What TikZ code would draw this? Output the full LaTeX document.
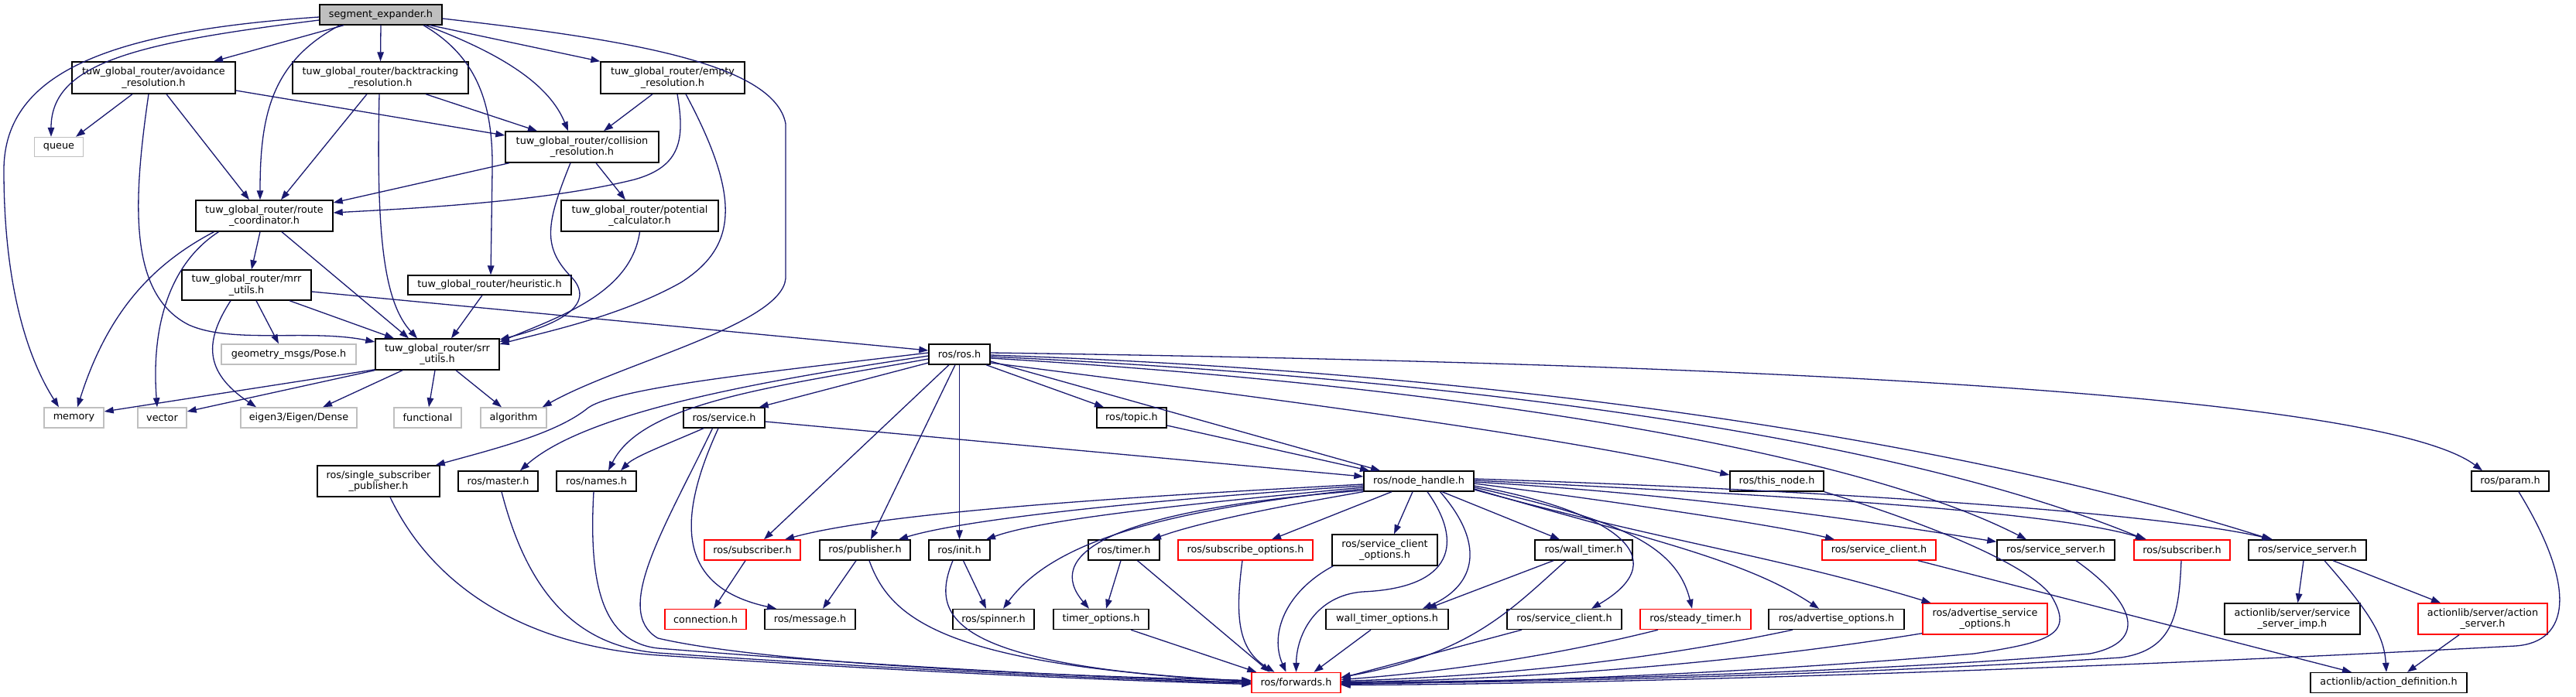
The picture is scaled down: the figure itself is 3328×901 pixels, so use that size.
\documentclass[tikz,border=0pt]{standalone}
\usepackage{fontspec}
\setmainfont{DejaVu Sans}
\usetikzlibrary{arrows.meta}
\definecolor{edgec}{RGB}{25,25,112}
\definecolor{grey75}{RGB}{191,191,191}
\newcommand\fnt{\fontsize{12.8}{14.5}\selectfont}
\newcommand\mynode[7]{\node[#1,minimum width=#5pt,minimum height=#6pt] (#2) at (#3,#4) {#7};}
\tikzset{
  nbase/.style={line width=1.4pt, fill=white, inner sep=0pt, align=center, font=\fnt, text=black},
  nb/.style={nbase, draw=black},
  ng/.style={nbase, draw=grey75},
  nr/.style={nbase, draw=red},
  ntop/.style={nbase, draw=black, fill=grey75},
  e/.style={draw=edgec, line width=1.3pt, -{Triangle[length=12pt,width=8.5pt]}, fill=none}
}
\begin{document}
\begin{tikzpicture}[x=1pt,y=-1pt]
\fill[white] (0,0) rectangle (3328,901);
\useasboundingbox (0,0) rectangle (3328,901);
% nodes
\mynode{ntop}{se}{492}{19}{158}{26}{segment\_expander.h}
\mynode{nb}{av}{198.5}{100.5}{211}{41}{tuw\_global\_router/avoidance\\\_resolution.h}
\mynode{nb}{bt}{491.5}{100.5}{227}{41}{tuw\_global\_router/backtracking\\\_resolution.h}
\mynode{nb}{em}{869}{100.5}{186}{41}{tuw\_global\_router/empty\\\_resolution.h}
\mynode{ng}{qu}{76}{190}{63}{25}{queue}
\mynode{nb}{co}{752}{190}{198}{40}{tuw\_global\_router/collision\\\_resolution.h}
\mynode{nb}{rc}{341.5}{279}{177}{40}{tuw\_global\_router/route\\\_coordinator.h}
\mynode{nb}{po}{826.5}{279}{203}{40}{tuw\_global\_router/potential\\\_calculator.h}
\mynode{nb}{mu}{318.5}{368.5}{167}{39}{tuw\_global\_router/mrr\\\_utils.h}
\mynode{nb}{he}{632.5}{368.5}{211}{25}{tuw\_global\_router/heuristic.h}
\mynode{nb}{su}{565}{458}{160}{40}{tuw\_global\_router/srr\\\_utils.h}
\mynode{ng}{gp}{373}{458}{174}{26}{geometry\_msgs/Pose.h}
\mynode{ng}{me}{95.5}{540}{77}{26}{memory}
\mynode{ng}{ve}{209.5}{540}{63}{26}{vector}
\mynode{ng}{ei}{386}{540}{150}{26}{eigen3/Eigen/Dense}
\mynode{ng}{fu}{552.5}{540}{87}{26}{functional}
\mynode{ng}{al}{663.5}{540}{85}{26}{algorithm}
\mynode{nb}{rr}{1239.5}{458}{79}{26}{ros/ros.h}
\mynode{nb}{sv}{935.5}{540}{105}{26}{ros/service.h}
\mynode{nb}{tp}{1462}{540}{90}{26}{ros/topic.h}
\mynode{nb}{ssp}{489}{622}{158}{40}{ros/single\_subscriber\\\_publisher.h}
\mynode{nb}{ma}{643.5}{622}{103}{26}{ros/master.h}
\mynode{nb}{na}{770.5}{622}{103}{26}{ros/names.h}
\mynode{nb}{nh}{1833}{622}{142}{26}{ros/node\_handle.h}
\mynode{nb}{tn}{2295.5}{622}{121}{26}{ros/this\_node.h}
\mynode{nb}{pa}{3243}{622}{100}{26}{ros/param.h}
\mynode{nr}{sba}{972}{711}{124}{26}{ros/subscriber.h}
\mynode{nb}{pu}{1117.5}{711}{117}{26}{ros/publisher.h}
\mynode{nb}{ini}{1239.5}{711}{79}{26}{ros/init.h}
\mynode{nb}{ti}{1452}{711}{92}{26}{ros/timer.h}
\mynode{nr}{so}{1609}{711}{174}{26}{ros/subscribe\_options.h}
\mynode{nb}{sco}{1789}{711}{136}{40}{ros/service\_client\\\_options.h}
\mynode{nb}{wt}{2046}{711}{126}{26}{ros/wall\_timer.h}
\mynode{nr}{scr}{2427.5}{711}{147}{26}{ros/service\_client.h}
\mynode{nb}{ssa}{2656}{711}{152}{26}{ros/service\_server.h}
\mynode{nr}{sbb}{2819}{711}{124}{26}{ros/subscriber.h}
\mynode{nb}{ssb}{2981}{711}{152}{26}{ros/service\_server.h}
\mynode{nr}{cn}{911.5}{800.5}{105}{26}{connection.h}
\mynode{nb}{ms}{1046.5}{800.5}{117}{26}{ros/message.h}
\mynode{nb}{sp}{1283.5}{800.5}{105}{26}{ros/spinner.h}
\mynode{nb}{tio}{1422.5}{800.5}{123}{26}{timer\_options.h}
\mynode{nb}{wto}{1792}{800.5}{158}{26}{wall\_timer\_options.h}
\mynode{nb}{scb}{2021}{800.5}{148}{26}{ros/service\_client.h}
\mynode{nr}{st}{2190.5}{800.5}{143}{26}{ros/steady\_timer.h}
\mynode{nb}{ao}{2372.5}{800.5}{175}{26}{ros/advertise\_options.h}
\mynode{nr}{aso}{2564.5}{800}{161}{40}{ros/advertise\_service\\\_options.h}
\mynode{nb}{ssi}{2961.5}{800}{175}{40}{actionlib/server/service\\\_server\_imp.h}
\mynode{nr}{asv}{3207.5}{800}{167}{40}{actionlib/server/action\\\_server.h}
\mynode{nr}{fw}{1674.5}{882.5}{115}{26}{ros/forwards.h}
\mynode{nb}{ad}{3086}{882.5}{202}{26}{actionlib/action\_definition.h}
% edges from segment_expander.h
\draw[e] ([yshift=-3pt]se.west) .. controls (150,40) and (5,90) .. (5,220) .. controls (5,380) and (40,470) .. ([xshift=-19.5pt]me.north);
\draw[e] ([yshift=-7pt]se.west) .. controls (180,55) and (66,80) .. ([xshift=-10pt]qu.north);
\draw[e] ([xshift=-48pt]se.south) -- ([xshift=77.5pt]av.north);
\draw[e] ([xshift=-53pt]se.south) .. controls (350,80) and (336,150) .. ([xshift=-5.5pt]rc.north);
\draw[e] (se.south) -- (bt.north);
\draw[e] ([xshift=55pt]se.south) .. controls (620,75) and (637,140) .. (636,220) -- ([xshift=1.5pt]he.north);
\draw[e] ([xshift=58pt]se.south) .. controls (650,70) and (710,110) .. ([xshift=-18pt]co.north);
\draw[e] ([xshift=64pt]se.south) -- (em.north west);
\draw[e] ([yshift=-5pt]se.east) .. controls (800,50) and (1000,80) .. (1015,160) -- (1015,360) .. controls (1010,420) and (800,470) .. ([xshift=-6pt]al.north east);
% avoidance
\draw[e] ([xshift=-27.5pt]av.south) -- ([xshift=22pt]qu.north);
\draw[e] ([xshift=-6.5pt]av.south) .. controls (172,260) and (165,380) .. (244,420) .. controls (300,445) and (400,425) .. ([yshift=16pt]su.west);
\draw[e] ([xshift=16.5pt]av.south) -- ([xshift=-19.5pt]rc.north);
\draw[e] ([yshift=-16.5pt]av.east) -- ([yshift=15pt]co.west);
% backtracking
\draw[e] ([xshift=-17.5pt]bt.south) -- ([xshift=21.5pt]rc.north);
\draw[e] ([xshift=-1.5pt]bt.south) .. controls (486,300) and (495,390) .. ([xshift=-26pt]su.north);
\draw[e] ([xshift=58.5pt]bt.south) -- ([xshift=-58pt]co.north);
% empty
\draw[e] ([xshift=-26pt]em.south) -- ([xshift=28pt]co.north);
\draw[e] ([xshift=6pt]em.south) .. controls (885,180) and (880,215) .. (820,232) .. controls (700,262) and (520,270) .. ([yshift=4pt]rc.east);
\draw[e] ([xshift=17pt]em.south) .. controls (960,260) and (950,320) .. (880,365) .. controls (800,410) and (700,430) .. ([yshift=13pt]su.east);
% collision
\draw[e] ([xshift=-94pt]co.south) -- ([yshift=17pt]rc.east);
\draw[e] ([xshift=18pt]co.south) -- ([xshift=-18.5pt]po.north);
\draw[e] ([xshift=-15pt]co.south) .. controls (705,290) and (700,320) .. (740,360) .. controls (770,395) and (720,420) .. ([yshift=19pt]su.east);
\draw[e] (po.south) .. controls (815,380) and (720,410) .. ([yshift=16pt]su.east);
% route coordinator
\draw[e] ([xshift=-5.5pt]rc.south) -- ([xshift=6.5pt]mu.north);
\draw[e] ([xshift=22.5pt]rc.south) -- ([xshift=-37pt]su.north);
\draw[e] ([xshift=-65pt]rc.south) .. controls (200,340) and (140,400) .. ([xshift=4.5pt]me.north);
\draw[e] ([xshift=-59pt]rc.south) .. controls (220,340) and (195,420) .. ([xshift=-6.5pt]ve.north);
% mrr utils
\draw[e] ([xshift=55.5pt]mu.south) -- ([xshift=-56pt]su.north);
\draw[e] ([xshift=12.5pt]mu.south) -- ([xshift=-13pt]gp.north);
\draw[e] ([xshift=-20.5pt]mu.south) .. controls (265,440) and (262,480) .. ([xshift=-55pt]ei.north);
\draw[e] ([yshift=-8.5pt]mu.east) -- ([yshift=5pt]rr.west);
\draw[e] ([xshift=-9.5pt]he.south) -- ([xshift=18pt]su.north);
% srr utils
\draw[e] ([yshift=1pt]su.south west) -- ([yshift=8pt]me.east);
\draw[e] (su.south west) -- ([yshift=8pt]ve.east);
\draw[e] ([xshift=-45pt]su.south) -- ([xshift=31pt]ei.north);
\draw[e] ([xshift=-3pt]su.south) -- ([xshift=1.5pt]fu.north);
\draw[e] ([xshift=24pt]su.south) -- ([xshift=-15.5pt]al.north);
% ros.h
\draw[e] ([yshift=-11pt]rr.west) -- ([xshift=-8pt]sv.north east);
\draw[e] ([xshift=-13.5pt]rr.south) -- ([xshift=15pt]sba.north);
\draw[e] ([xshift=-5.5pt]rr.south) -- ([xshift=7.5pt]pu.north);
\draw[e] (rr.south) -- (ini.north);
\draw[e] ([xshift=34.5pt]rr.south) -- ([xshift=-36pt]tp.north);
\draw[e] ([yshift=-9pt]rr.east) -- ([xshift=-50pt]nh.north);
\draw[e] ([yshift=2pt]rr.west) .. controls (1000,480) and (800,500) .. (760,527) .. controls (720,560) and (640,580) .. ([xshift=-6pt]ssp.north east);
\draw[e] ([yshift=-2pt]rr.west) .. controls (1000,490) and (760,530) .. ([xshift=28.5pt]ma.north);
\draw[e] ([yshift=-6pt]rr.west) .. controls (1000,500) and (830,520) .. ([xshift=15.5pt]na.north);
\draw[e] ([yshift=-11pt]rr.east) .. controls (1600,510) and (2000,560) .. ([yshift=8pt]tn.west);
\draw[e] ([yshift=2pt]rr.east) .. controls (1900,465) and (3050,490) .. ([xshift=-36pt]pa.north);
\draw[e] ([yshift=-1pt]rr.east) .. controls (1900,480) and (2500,560) .. ([xshift=-47pt]ssb.north);
\draw[e] ([yshift=-3pt]rr.east) .. controls (1900,490) and (2450,565) .. ([xshift=-48pt]sbb.north);
\draw[e] ([yshift=-5pt]rr.east) .. controls (1900,500) and (2400,585) .. ([xshift=-38pt]ssa.north);
% topic, service
\draw[e] ([yshift=-10pt]tp.east) -- ([xshift=-64pt]nh.north);
\draw[e] ([yshift=-5pt]sv.east) -- ([yshift=6pt]nh.west);
\draw[e] ([xshift=-26.5pt]sv.south) .. controls (860,575) and (820,590) .. ([xshift=31.5pt]na.north);
\draw[e] ([xshift=-7.5pt]sv.south) .. controls (870,680) and (880,760) .. ([xshift=-43.5pt]ms.north);
\draw[e] ([xshift=-15pt]sv.south) .. controls (860,680) and (790,790) .. (850,825) .. controls (1000,860) and (1400,875) .. ([yshift=3pt]fw.west);
\draw[e] ([xshift=15pt]ssp.south) .. controls (560,760) and (680,835) .. (850,847) .. controls (1200,870) and (1450,880) .. ([yshift=-2pt]fw.west);
\draw[e] ([xshift=4.5pt]ma.south) .. controls (680,760) and (740,835) .. (850,844) .. controls (1200,868) and (1450,878) .. ([yshift=-1pt]fw.west);
\draw[e] ([xshift=-3.5pt]na.south) .. controls (760,760) and (780,830) .. (850,838) .. controls (1200,866) and (1450,876) .. (fw.west);
% second-level
\draw[e] ([xshift=-9pt]sba.south) -- ([xshift=10.5pt]cn.north);
\draw[e] ([xshift=-11.5pt]pu.south) -- ([xshift=16.5pt]ms.north);
\draw[e] ([xshift=5.5pt]pu.south) .. controls (1150,800) and (1220,860) .. ([yshift=2pt]fw.west);
\draw[e] ([xshift=5pt]ini.south) -- ([xshift=-9.5pt]sp.north);
\draw[e] ([xshift=-8.5pt]ini.south) .. controls (1200,800) and (1230,860) .. ([yshift=1pt]fw.west);
\draw[e] ([xshift=-4pt]ti.south) -- ([xshift=6.5pt]tio.north);
\draw[e] ([xshift=17.5pt]ti.south) -- ([xshift=-34pt]fw.north);
\draw[e] ([xshift=38.5pt]tio.south) -- ([xshift=7pt]fw.north west);
\draw[e] ([xshift=-4pt]so.south) .. controls (1595,800) and (1600,840) .. ([xshift=-28pt]fw.north);
\draw[e] ([xshift=2pt]sco.south west) .. controls (1660,765) and (1640,820) .. ([xshift=-13pt]fw.north);
\draw[e] ([xshift=11pt]nh.south) .. controls (1890,700) and (1880,760) .. (1760,765) .. controls (1700,770) and (1675,820) .. (fw.north);
\draw[e] ([xshift=-21pt]wto.south) -- ([xshift=23pt]fw.north);
\draw[e] ([xshift=-39pt]wt.south) -- ([xshift=52pt]wto.north);
\draw[e] ([xshift=27.5pt]nh.south) .. controls (1925,710) and (1900,760) .. ([xshift=46pt]wto.north);
\draw[e] ([xshift=-23pt]wt.south) .. controls (1950,790) and (1900,845) .. ([yshift=7pt]fw.east);
\draw[e] ([xshift=-55pt]scb.south) -- ([yshift=6pt]fw.east);
\draw[e] ([xshift=-48.5pt]st.south) .. controls (2000,850) and (1850,870) .. ([yshift=4pt]fw.east);
\draw[e] ([xshift=-56.5pt]ao.south) .. controls (2100,860) and (1900,875) .. ([yshift=2pt]fw.east);
\draw[e] ([yshift=2pt]aso.south west) .. controls (2200,865) and (1900,880) .. ([yshift=1pt]fw.east);
\draw[e] ([xshift=26pt]ssa.south) .. controls (2760,780) and (2775,830) .. (2700,845) .. controls (2400,870) and (2000,880) .. (fw.east);
\draw[e] ([xshift=-1pt]sbb.south) .. controls (2815,790) and (2810,840) .. (2740,850) .. controls (2400,872) and (2000,882) .. ([yshift=-1pt]fw.east);
\draw[e] ([xshift=11pt]pa.south) .. controls (3330,760) and (3320,830) .. (3250,835) .. controls (2600,870) and (2000,885) .. ([yshift=-3pt]fw.east);
\draw[e] (tn.south east) .. controls (2500,680) and (2620,730) .. (2650,770) .. controls (2680,820) and (2650,830) .. (2550,845) .. controls (2200,875) and (1900,882) .. ([yshift=-2pt]fw.east);
% node_handle left
\draw[e] ([yshift=-4pt]nh.west) .. controls (1500,640) and (1150,660) .. ([xshift=42pt]sba.north);
\draw[e] ([yshift=-6pt]nh.west) .. controls (1500,645) and (1250,670) .. ([xshift=43.5pt]pu.north);
\draw[e] ([yshift=-8pt]nh.west) .. controls (1550,650) and (1350,670) .. ([xshift=34.5pt]ini.north);
\draw[e] ([yshift=-10pt]nh.west) .. controls (1500,660) and (1360,700) .. ([xshift=12.5pt]sp.north);
\draw[e] ([yshift=-12pt]nh.west) .. controls (1420,660) and (1350,720) .. ([xshift=-15.5pt]tio.north);
\draw[e] (nh.south west) .. controls (1650,655) and (1550,675) .. ([xshift=36pt]ti.north);
\draw[e] ([xshift=-35pt]nh.south) -- ([xshift=34pt]so.north);
\draw[e] ([xshift=-8pt]nh.south) -- ([xshift=12pt]sco.north);
\draw[e] ([xshift=30pt]nh.south) -- ([xshift=-31pt]wt.north);
% node_handle right
\draw[e] ([yshift=-6pt]nh.east) .. controls (2080,660) and (2170,720) .. ([xshift=35pt]scb.north);
\draw[e] ([yshift=-8pt]nh.east) .. controls (2080,670) and (2165,700) .. ([xshift=-4.5pt]st.north);
\draw[e] ([yshift=-10pt]nh.east) .. controls (2100,690) and (2250,720) .. ([xshift=-22.5pt]ao.north);
\draw[e] ([yshift=-11pt]nh.east) .. controls (2150,700) and (2300,720) .. ([xshift=-70pt]aso.north);
\draw[e] ([yshift=-3pt]nh.east) .. controls (2100,650) and (2300,680) .. ([xshift=-57.5pt]scr.north);
\draw[e] ([yshift=-1pt]nh.east) .. controls (2200,640) and (2450,680) .. ([yshift=-3pt]ssa.north west);
\draw[e] ([yshift=1pt]nh.east) .. controls (2300,640) and (2650,660) .. ([xshift=-46pt]sbb.north);
\draw[e] ([yshift=3pt]nh.east) .. controls (2400,635) and (2800,665) .. ([xshift=-45pt]ssb.north);
% actionlib
\draw[e] ([xshift=50.5pt]scr.south) -- ([xshift=-48pt]ad.north);
\draw[e] ([xshift=-5pt]ssb.south) -- ([xshift=7pt]ssi.north);
\draw[e] ([xshift=22pt]ssb.south) .. controls (3060,790) and (3080,820) .. ([xshift=-3pt]ad.north);
\draw[e] ([xshift=33pt]ssb.south) -- ([xshift=-54.5pt]asv.north);
\draw[e] ([xshift=-30.5pt]asv.south) -- ([xshift=24pt]ad.north);
\end{tikzpicture}
\end{document}
